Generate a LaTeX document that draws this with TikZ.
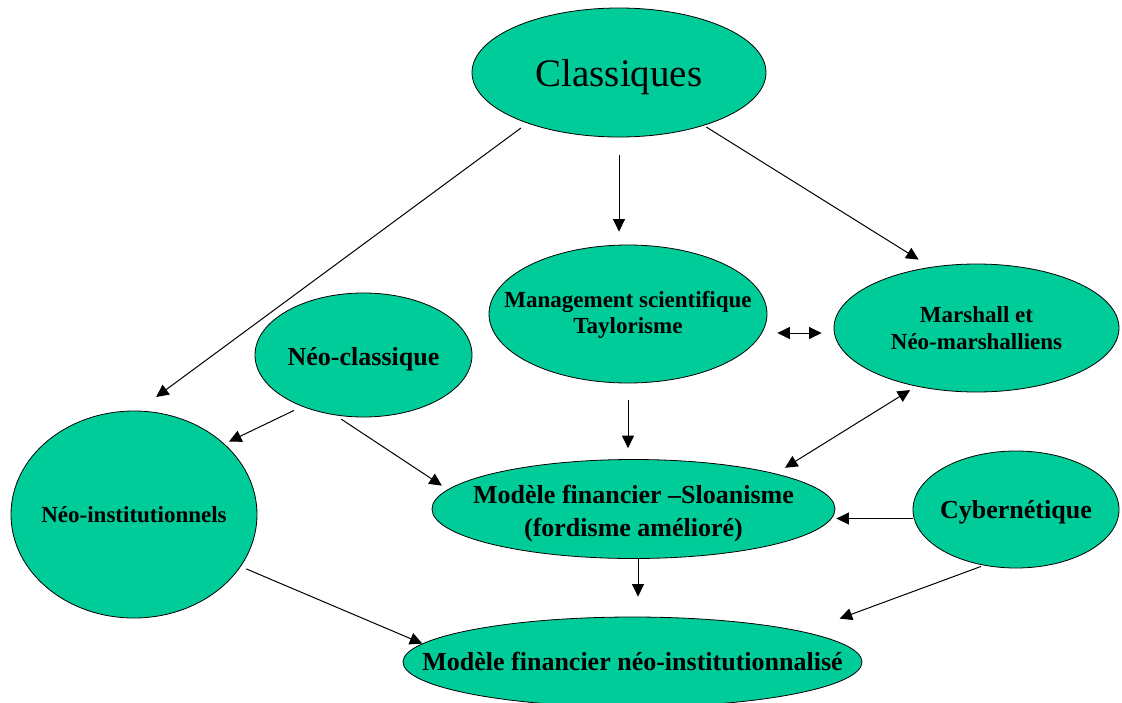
\documentclass[tikz,border=0pt]{standalone}
\usepackage{fontspec}
\setmainfont{Liberation Serif}
\usetikzlibrary{shapes.geometric,arrows.meta}
\definecolor{nodegreen}{RGB}{0,204,153}

\begin{document}
\begin{tikzpicture}[
  x=1pt, y=-1pt,
  >={Triangle[length=12.5pt,width=12pt]},
  myellipse/.style={
    ellipse,
    fill=nodegreen,
    draw,
    line width=0.8pt,
    inner xsep=-50pt,
    inner ysep=0pt,
    align=center,
    font=\bfseries\fontsize{23}{26}\selectfont
  },
  bigtext/.style={
    font=\bfseries\fontsize{26}{32.7}\selectfont
  },
  myarrow/.style={
    ->,
    line width=1pt
  }
]
\useasboundingbox (0,0) rectangle (1122,702);
\node[myellipse, minimum width=294pt, minimum height=129pt, font=\fontsize{39}{44}\selectfont, text height=38.4pt, text depth=10pt] (cl) at (619,72.5) {Classiques};
\node[myellipse, minimum width=278pt, minimum height=138pt] (ms) at (628,314) {\rule{0pt}{19.6pt}Management scientifique\\Taylorisme\rule[-7pt]{0pt}{7pt}};
\node[myellipse, minimum width=285pt, minimum height=128pt, font=\bfseries\fontsize{23}{26.7}\selectfont] (mm) at (976.5,328) {\rule{0pt}{22.3pt}Marshall et\\Néo-marshalliens\rule[-7pt]{0pt}{7pt}};
\node[myellipse, bigtext, minimum width=217pt, minimum height=124pt, text height=28.4pt, text depth=7pt] (nc) at (363.5,355) {Néo-classique};
\node[myellipse, minimum width=246pt, minimum height=207pt, text height=22.4pt, text depth=6pt] (ni) at (134,514.5) {Néo-institutionnels};
\node[myellipse, bigtext, minimum width=403pt, minimum height=98pt] (sl) at (633.5,509) {\rule{0pt}{29.3pt}Modèle financier –Sloanisme\\(fordisme amélioré)\rule[-8pt]{0pt}{8pt}};
\node[myellipse, bigtext, minimum width=206pt, minimum height=117pt, text height=24.6pt, text depth=7pt] (cy) at (1016,509.5) {Cybernétique};
\node[myellipse, bigtext, minimum width=459pt, minimum height=90pt, text height=24.4pt, text depth=7pt] (fm) at (632.5,662) {Modèle financier néo-institutionnalisé};
\coordinate (lk) at ([yshift=-19pt]ms.east);
\coordinate (cw) at ([yshift=-9pt]cy.west);
\coordinate (ss) at ([xshift=4.5pt]sl.south);
\draw[myarrow, shorten <=8pt, shorten >=23pt] (cl.209) -- (ni.88);
\draw[myarrow, shorten <=18pt, shorten >=13pt] (cl.south) -- (cl.south |- ms.north);
\draw[myarrow, shorten <=3pt, shorten >=14pt] (cl.328) -- (mm.127);
\draw[myarrow, <->, shorten <=10pt, shorten >=12pt] (lk) -- (lk -| mm.west);
\draw[myarrow, shorten <=9pt, shorten >=5pt] (nc.220) -- (ni.38);
\draw[myarrow, shorten <=7pt, shorten >=7pt] (nc.245) -- (sl.174);
\draw[myarrow, shorten <=17pt, shorten >=11pt] (ms.south) -- (ms.south |- sl.north);
\draw[myarrow, <->, shorten <=11pt, shorten >=7pt] (sl.14) -- (mm.224);
\draw[myarrow, shorten >=1pt] (cw) -- (cw -| sl.east);
\draw[myarrow, shorten >=20pt] (ss) -- (ss |- fm.north);
\draw[myarrow, shorten <=6pt] (ni.334) -- (fm.175);
\draw[myarrow, shorten <=3pt, shorten >=38pt] (cy.240) -- (fm.10);
\end{tikzpicture}
\end{document}
